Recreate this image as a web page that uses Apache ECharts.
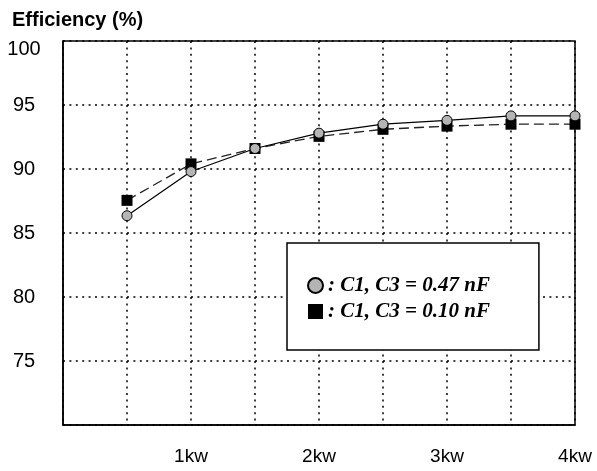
<!DOCTYPE html>
<html><head><meta charset="utf-8">
<script src="https://cdn.jsdelivr.net/npm/echarts@6/dist/echarts.min.js"></script>
<style>html,body{margin:0;padding:0;background:#fff}#c{width:597px;height:471px}</style>
</head><body><div id="c"></div>
<script>
const power = [0.5, 1, 1.5, 2, 2.5, 3, 3.5, 4];
const eff047 = [86.35, 89.8, 91.6, 92.8, 93.5, 93.8, 94.15, 94.15];
const eff010 = [87.55, 90.4, 91.6, 92.55, 93.1, 93.35, 93.5, 93.5];
const seriesNames = ['C1, C3 = 0.47 nF', 'C1, C3 = 0.10 nF'];
const yTitle = 'Efficiency (%)';

const chart = echarts.init(document.getElementById('c'), null, {renderer: 'canvas'});
const dotted = {color: '#000', width: 1.5, type: [2, 4.4]};
chart.setOption({
  animation: false,
  backgroundColor: '#fff',
  title: {text: yTitle, left: 7, top: 5,
    textStyle: {fontFamily: 'Liberation Sans', fontSize: 20, fontWeight: 'bold', color: '#000'}},
  grid: {left: 63, right: 22, top: 41, bottom: 46, show: true, borderColor: '#000', borderWidth: 1.5, containLabel: false},
  legend: {
    orient: 'vertical', left: 287, top: 243,
    padding: [32, 49, 28, 20],
    itemGap: 5, itemWidth: 15, itemHeight: 15,
    backgroundColor: '#fff', borderColor: '#000', borderWidth: 1.5,
    formatter: n => ': ' + n,
    textStyle: {fontFamily: 'Liberation Serif', fontStyle: 'italic', fontWeight: 'bold', fontSize: 21, color: '#000'},
    data: [{name: seriesNames[0], icon: 'circle'}, {name: seriesNames[1], icon: 'rect'}]
  },
  xAxis: {
    type: 'value', min: 0, max: 4, interval: 0.5,
    axisLine: {show: true, lineStyle: {color: '#000', width: 1.5}},
    axisTick: {show: false},
    splitLine: {show: true, lineStyle: dotted},
    axisLabel: {margin: 22, color: '#000', fontFamily: 'Liberation Sans', fontSize: 19,
      formatter: v => (v > 0 && Number.isInteger(v)) ? v + 'kw' : ''}
  },
  yAxis: {
    type: 'value', min: 70, max: 100, interval: 5,
    axisLine: {show: true, lineStyle: {color: '#000', width: 1.5}},
    axisTick: {show: false},
    splitLine: {show: true, lineStyle: dotted},
    axisLabel: {margin: 39, align: 'center', color: '#000', fontFamily: 'Liberation Sans', fontSize: 20,
      formatter: v => v === 70 ? '' : (v === 100 ? '{t|100}' : String(v)),
      rich: {t: {fontFamily: 'Liberation Sans', fontSize: 20, color: '#000', padding: [16, 0, 0, 0]}}}
  },
  series: [
    {name: seriesNames[0], type: 'line', data: power.map((p, i) => [p, eff047[i]]),
      symbol: 'circle', symbolSize: 10,
      lineStyle: {color: '#000', width: 1.2, type: 'solid'},
      itemStyle: {color: '#b4b4b4', borderColor: '#000', borderWidth: 1}, z: 3},
    {name: seriesNames[1], type: 'line', data: power.map((p, i) => [p, eff010[i]]),
      symbol: 'rect', symbolSize: 11,
      lineStyle: {color: '#222', width: 1.3, type: [10, 5]},
      itemStyle: {color: '#000', borderColor: '#000', borderWidth: 0}, z: 2}
  ]
});
</script></body></html>
